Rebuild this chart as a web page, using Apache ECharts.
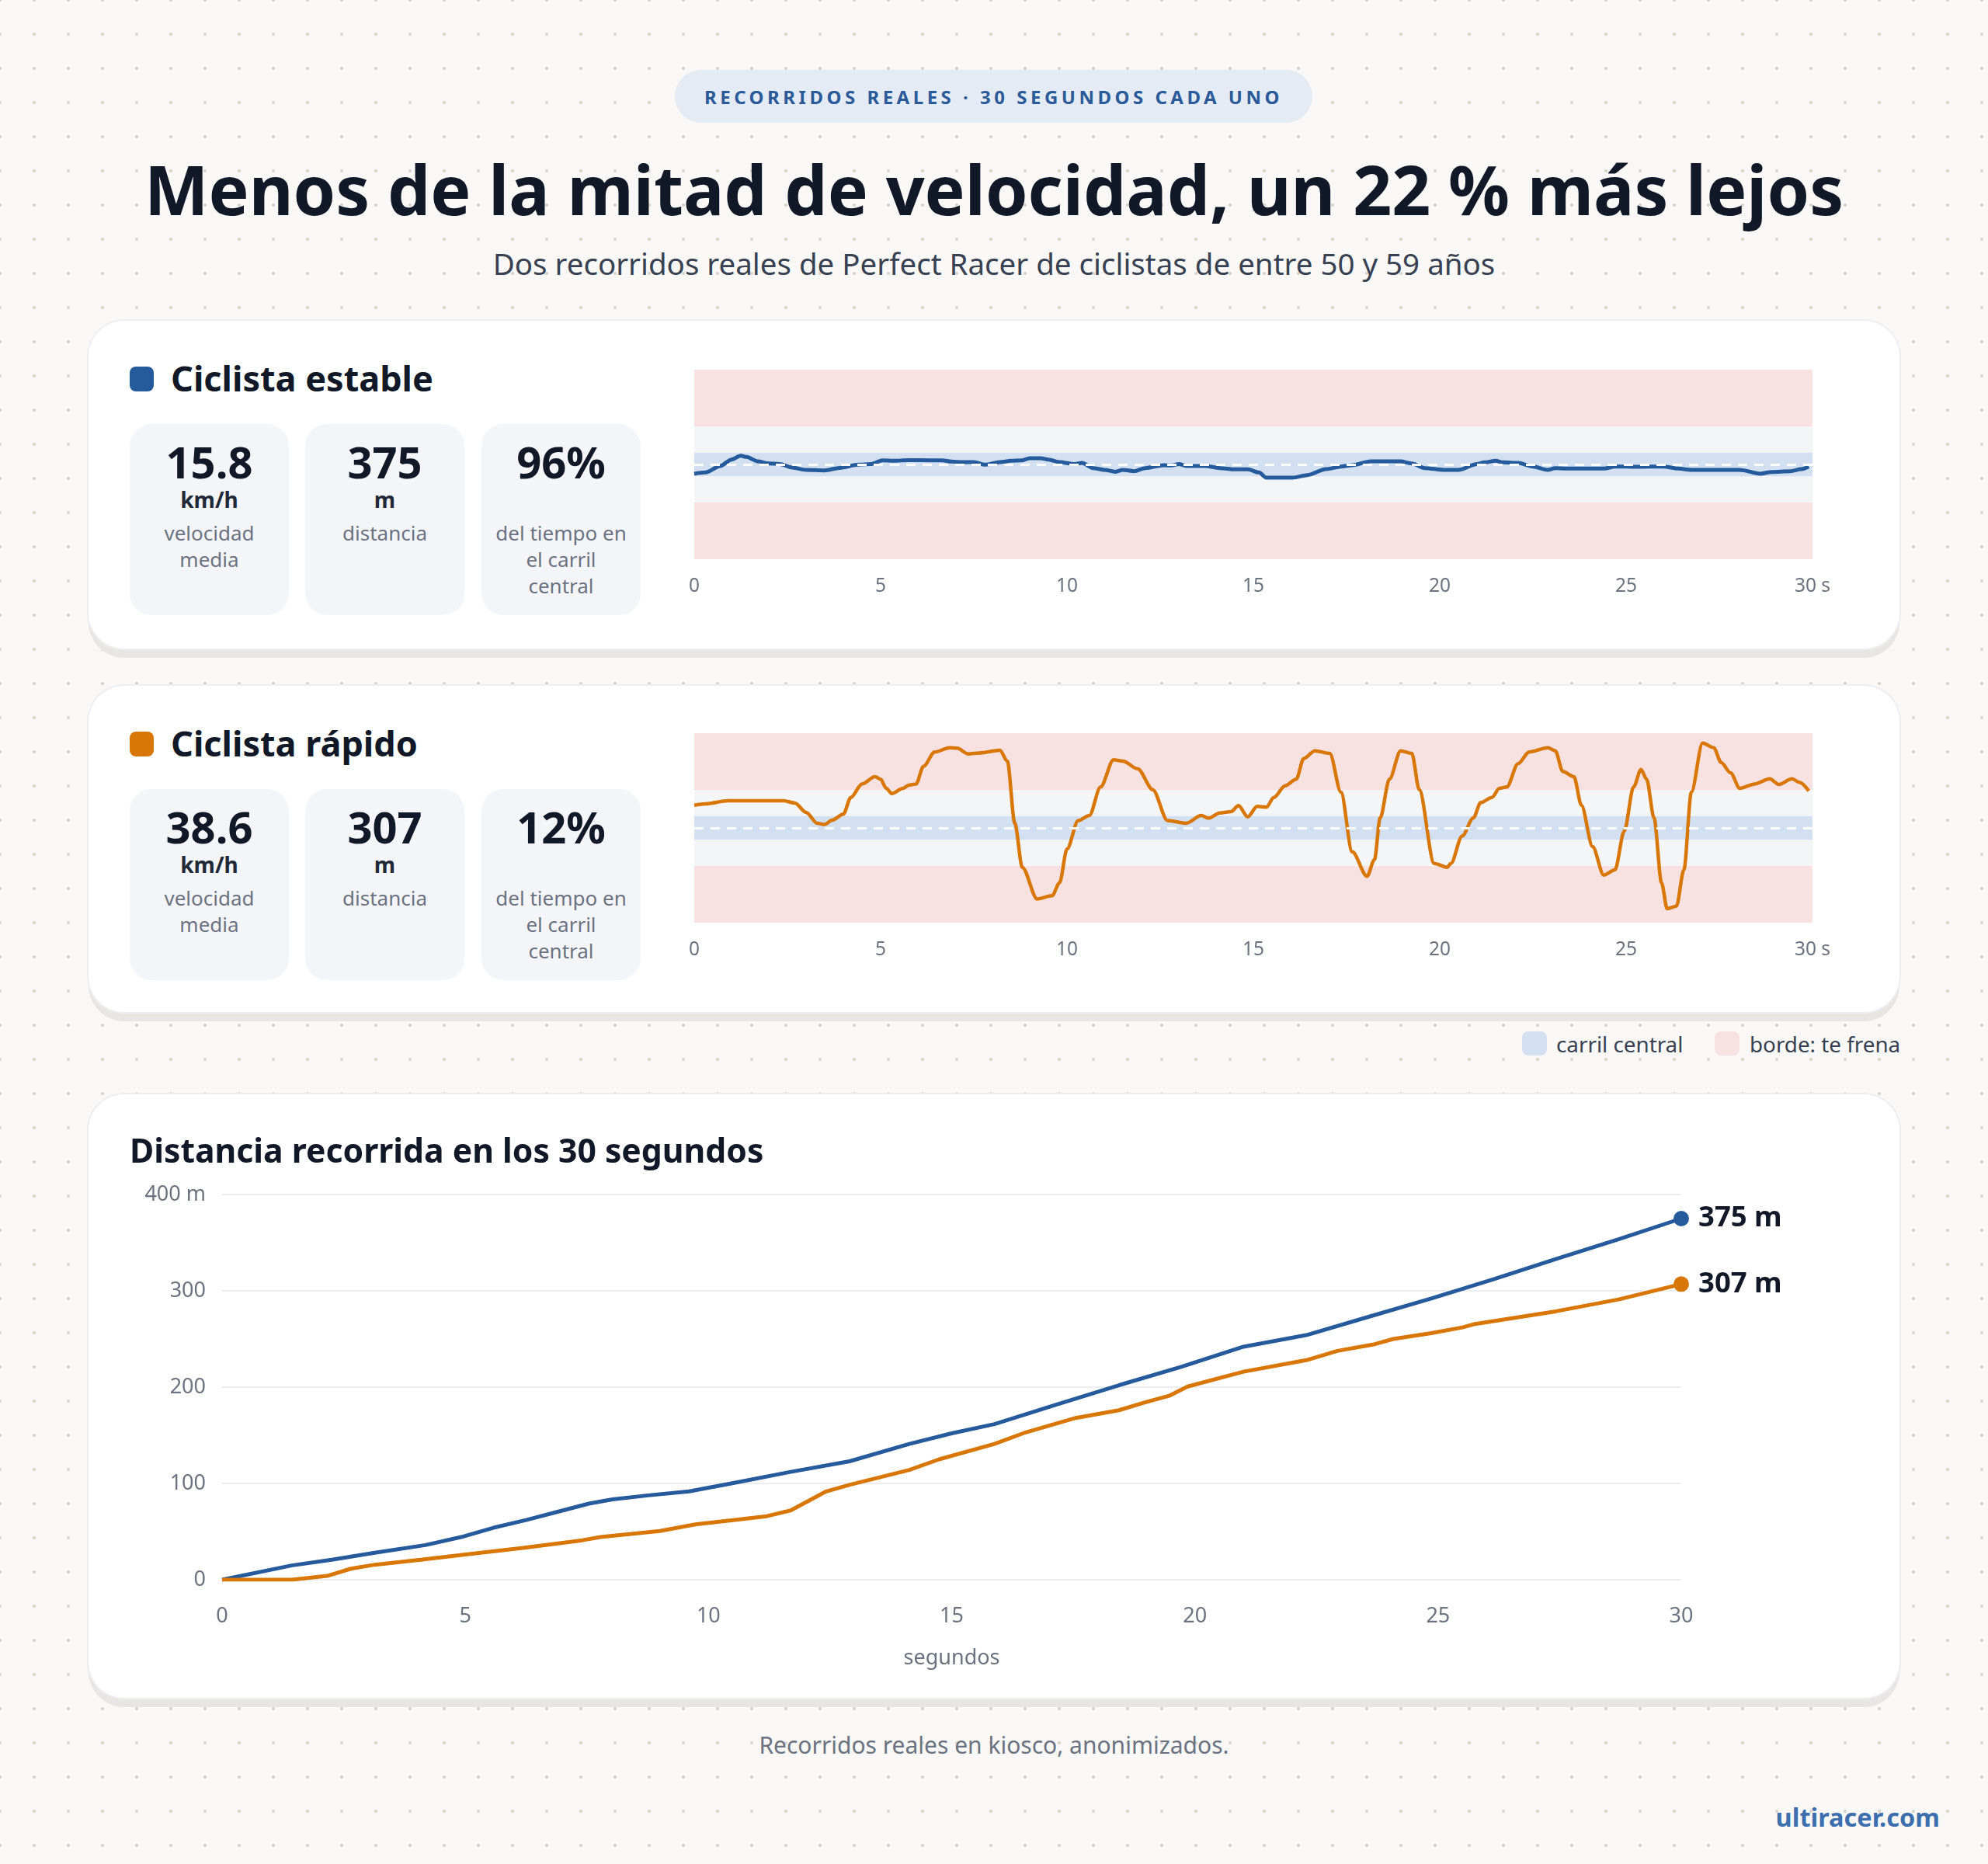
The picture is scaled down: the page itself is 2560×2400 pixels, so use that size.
<!DOCTYPE html>
<html>
<head>
<meta charset="utf-8">
<script src="https://cdn.jsdelivr.net/npm/echarts@6/dist/echarts.min.js"></script>
<style>
body{margin:0;width:2560px;height:2400px;position:relative;overflow:hidden;background:#f9f8f6;font-family:'Noto Sans',sans-serif;color:#111827}
.dots{position:absolute;left:0;top:0;width:2560px;height:2400px;background-image:radial-gradient(circle,#d9d5cf 1.8px,transparent 2.4px);background-size:44px 44px;background-position:-22px -22px}
.abs{position:absolute}
.pill{left:869px;top:90px;width:821px;height:68px;border-radius:34px;background:#e4ebf4;color:#2a5a98;font-weight:700;font-size:24px;letter-spacing:4.5px;display:flex;align-items:center;justify-content:center}
.title{left:0;width:2560px;top:191px;text-align:center;font-size:87.5px;font-weight:700;line-height:1.2}
.sub{left:0;width:2560px;top:316px;text-align:center;font-size:38.5px;line-height:1.2;color:#374151}
.card{left:114px;width:2332px;background:#fff;border-radius:46px;box-shadow:0 0 0 2px #eceef1,0 12px 0 #e8e6e2}
.mark{left:53px;top:59px;width:31px;height:32px;border-radius:8px}
.head{left:106px;top:47px;font-size:45px;font-weight:700;line-height:1.2;white-space:nowrap}
.box{top:133px;width:205px;height:246px;border-radius:28px;background:#f4f5f9;text-align:center}
.num{position:absolute;left:0;width:100%;top:15px;font-size:56px;font-weight:700;line-height:1.2}
.unit{position:absolute;left:0;width:100%;top:81px;font-size:28px;font-weight:700;line-height:1.2;color:#1f2937}
.lab{position:absolute;left:0;width:100%;top:123px;font-size:26px;line-height:34px;color:#6b7280}
.leg{top:1328px;width:32px;height:31px;border-radius:8px}
.legt{top:1325px;font-size:27.8px;line-height:38px;color:#374151;white-space:nowrap}
.foot{left:0;width:2560px;top:2228px;text-align:center;font-size:30px;line-height:38px;color:#6b7280}
.brand{right:62px;top:2319px;font-size:32.5px;font-weight:700;line-height:42px;color:#3d6faf}
</style>
</head>
<body>
<div class="dots"></div>
<div class="abs pill">RECORRIDOS REALES · 30 SEGUNDOS CADA UNO</div>
<div class="abs title">Menos de la mitad de velocidad, un 22 % más lejos</div>
<div class="abs sub">Dos recorridos reales de Perfect Racer de ciclistas de entre 50 y 59 años</div>

<div class="abs card" style="top:413px;height:422px">
  <div class="abs mark" style="background:#255a9c"></div>
  <div class="abs head">Ciclista estable</div>
  <div class="abs box" style="left:53px"><div class="num">15.8</div><div class="unit">km/h</div><div class="lab">velocidad<br>media</div></div>
  <div class="abs box" style="left:279px"><div class="num">375</div><div class="unit">m</div><div class="lab">distancia</div></div>
  <div class="abs box" style="left:506px"><div class="num">96%</div><div class="lab">del tiempo en<br>el carril<br>central</div></div>
  <div class="abs" id="laneSteady" style="left:746px;top:30px;width:1540px;height:350px"></div>
</div>

<div class="abs card" style="top:883px;height:420px">
  <div class="abs mark" style="background:#d97706"></div>
  <div class="abs head">Ciclista rápido</div>
  <div class="abs box" style="left:53px"><div class="num">38.6</div><div class="unit">km/h</div><div class="lab">velocidad<br>media</div></div>
  <div class="abs box" style="left:279px"><div class="num">307</div><div class="unit">m</div><div class="lab">distancia</div></div>
  <div class="abs box" style="left:506px"><div class="num">12%</div><div class="lab">del tiempo en<br>el carril<br>central</div></div>
  <div class="abs" id="laneFast" style="left:746px;top:28px;width:1540px;height:350px"></div>
</div>

<div class="abs leg" style="left:1960px;background:#d3e0f1"></div>
<div class="abs legt" style="left:2004px">carril central</div>
<div class="abs leg" style="left:2208px;background:#f7e2e1"></div>
<div class="abs legt" style="left:2253px">borde: te frena</div>

<div class="abs card" style="top:1409px;height:777px">
  <div class="abs" id="distChart" style="left:0;top:0;width:2332px;height:777px"></div>
  <div class="abs head" style="left:53px;top:46px;font-size:42.7px">Distancia recorrida en los 30 segundos</div>
</div>

<div class="abs foot">Recorridos reales en kiosco, anonimizados.</div>
<div class="abs brand">ultiracer.com</div>

<script>
// lateral position in the lane, -100..100 (0 = centre line)
var steadyTime = [0,0.3,0.7,1.0,1.25,1.4,1.7,2.0,2.3,2.6,3.0,3.5,3.9,4.4,4.75,5.05,5.35,5.75,6.35,6.65,6.9,7.2,7.5,7.8,8.2,8.5,8.8,9.0,9.3,9.5,9.8,10.2,10.4,10.7,11.0,11.3,11.5,11.8,12.1,12.6,12.8,13.0,13.2,13.7,14.1,14.5,14.85,15.15,15.35,16.05,16.45,16.95,17.35,17.65,18.15,18.95,19.25,19.6,20.1,20.5,21.0,21.2,21.5,21.7,22.1,22.5,22.9,23.1,23.4,24.4,24.7,25.3,26.0,26.4,26.75,28.05,28.6,28.9,29.4,29.7,29.9];
var steadyPos = [-9.8,-8.5,-1.6,5.2,9.3,7.9,3.3,1.1,0.5,-3.0,-5.7,-6.3,-3.6,-0.3,0.5,4.4,3.8,4.6,4.4,4.4,3.0,2.5,2.5,-0.3,2.5,3.8,4.4,6.6,6.6,5.2,2.5,0.5,1.6,-3.8,-5.7,-7.7,-5.7,-7.1,-3.8,-0.8,-1.1,0.5,-1.6,-1.6,-3.8,-5.2,-5.2,-8.5,-13.9,-13.9,-11.2,-4.9,-2.2,-0.8,3.3,3.3,1.1,-3.8,-5.7,-5.7,0.5,2.2,3.8,2.2,1.6,-2.2,-5.7,-3.8,-4.4,-4.4,-2.2,-2.5,-2.2,-4.4,-5.7,-5.7,-9.8,-7.9,-7.1,-4.9,-2.2];

var fastTime = [0,0.3,0.9,2.4,2.7,3.0,3.3,3.5,3.7,4.0,4.2,4.5,4.85,5.0,5.15,5.3,5.6,5.75,5.95,6.15,6.45,6.85,7.05,7.35,7.65,8.2,8.4,8.6,8.8,9.2,9.6,9.8,10.0,10.3,10.6,10.9,11.25,11.5,11.9,12.3,12.7,13.2,13.6,13.8,14.1,14.4,14.6,14.85,15.1,15.35,15.55,15.85,16.15,16.35,16.65,17.05,17.35,17.65,18.05,18.25,18.4,18.65,18.95,19.25,19.45,19.85,20.2,20.3,20.6,20.9,21.1,21.4,21.6,21.8,22.1,22.4,22.9,23.1,23.3,23.6,23.8,24.1,24.4,24.7,24.95,25.2,25.4,25.55,25.75,25.95,26.1,26.35,26.55,26.75,27.05,27.35,27.55,27.8,28.05,28.45,28.85,29.1,29.45,29.65,29.9];
var fastPos = [24.0,25.4,28.7,28.7,26.2,16.4,4.9,3.6,8.2,14.5,32.2,46.4,54.1,51.4,41.8,36.3,41.8,45.1,46.4,65.0,80.1,84.7,84.2,78.1,79.2,82.0,70.5,4.9,-41.5,-74.9,-71.6,-57.9,-22.4,7.7,13.1,43.2,71.9,70.5,62.3,40.4,7.7,4.9,13.1,10.4,15.8,17.2,23.5,11.7,22.7,21.9,32.2,44.5,51.4,73.2,81.4,78.7,37.7,-25.1,-51.1,-33.3,10.4,51.4,81.4,78.7,40.4,-37.4,-41.5,-37.4,-8.7,10.4,26.8,32.2,41.8,43.2,67.8,80.1,84.7,81.4,59.6,54.1,24.0,-19.7,-49.7,-44.3,-3.3,43.2,61.7,51.4,10.4,-57.9,-85.2,-82.5,-44.3,37.7,89.6,84.7,69.1,58.2,41.8,46.4,51.9,45.9,51.9,48.1,39.1];

// cumulative distance (m)
var steadyDistTime = [0,1.43,2.28,3.14,4.18,4.97,5.58,6.25,6.93,7.54,8.03,8.76,9.6,10.47,11.69,12.9,14.13,15,15.88,17.16,18.44,19.72,21.0,22.29,23.57,24.86,26.14,27.42,28.71,30];
var steadyDist = [0,14.8,21,28,36,45,54,62,71,79,83.5,87.6,91.7,100,112,123,141,152,161.6,182,202,221,242,254,273,292,312,333,353.5,375];
var fastDistTime = [0,1.43,2.16,2.65,3.14,4.12,4.97,6.19,7.41,7.78,9.0,9.73,10.47,11.2,11.69,12.42,12.91,14.13,14.74,15.88,16.52,17.55,18.44,18.96,19.47,19.85,21.0,22.29,22.93,23.7,24.08,24.86,25.5,25.76,27.42,28.71,30];
var fastDist = [0,0,4,11.5,15.6,21,26,33,41,44.4,50.6,57.5,61.7,66,72,91.7,98.7,114,125,141,153,168,176,184,191,200.6,216,228,237.6,244.6,250,256,262,265.6,278.7,291,307];

// lane bands: [from, to, colour]
var laneBands = [[40,100,'#f7e2e1'],[-100,-40,'#f7e2e1'],[12.5,40,'#f4f5f7'],[-40,-12.5,'#f4f5f7'],[-12.5,12.5,'#d3e0f1']];

function pairs(xs, ys) {
    return xs.map(function (x, i) { return [x, ys[i]]; });
}

function laneOption(times, values, color, width) {
    return {
        animation: false,
        grid: {left: 34, top: 33, width: 1440, height: 244},
        xAxis: {
            type: 'value', min: 0, max: 30, interval: 5,
            axisLine: {show: false}, axisTick: {show: false}, splitLine: {show: false},
            axisLabel: {
                color: '#6b7280', fontSize: 24.5, margin: 23, fontFamily: 'Noto Sans',
                formatter: function (v) { return v === 30 ? '30 s' : v; }
            }
        },
        yAxis: {type: 'value', min: -100, max: 100, show: false},
        series: [{
            type: 'line',
            data: pairs(times, values),
            smooth: 0.3,
            smoothMonotone: 'x',
            symbol: 'none',
            lineStyle: {color: color, width: width},
            markArea: {
                silent: true,
                data: laneBands.map(function (b) {
                    return [{yAxis: b[0], itemStyle: {color: b[2]}}, {yAxis: b[1]}];
                })
            },
            markLine: {
                silent: true, symbol: 'none', label: {show: false},
                lineStyle: {color: '#ffffff', width: 3, type: [12, 9]},
                data: [{yAxis: 0}]
            }
        }]
    };
}

var chartSteady = echarts.init(document.getElementById('laneSteady'));
chartSteady.setOption(laneOption(steadyTime, steadyPos, '#255a9c', 5));
var chartFast = echarts.init(document.getElementById('laneFast'));
chartFast.setOption(laneOption(fastTime, fastPos, '#d97706', 4.5));

function distSeries(data, color) {
    return {
        type: 'line',
        data: data,
        showSymbol: true,
        showAllSymbol: true,
        symbol: 'circle',
        symbolSize: function (v, p) { return p.dataIndex === data.length - 1 ? 20 : 0; },
        itemStyle: {color: color},
        lineStyle: {color: color, width: 5},
        endLabel: {
            show: true, distance: 22,
            formatter: function (p) { return p.value[1] + ' m'; },
            fontSize: 36.5, fontWeight: 'bold', color: '#111827', fontFamily: 'Noto Sans'
        }
    };
}

var chartDist = echarts.init(document.getElementById('distChart'));
chartDist.setOption({
    animation: false,
    grid: {left: 172, top: 129, width: 1879, height: 496},
    xAxis: {
        type: 'value', min: 0, max: 30, interval: 5,
        name: 'segundos', nameLocation: 'middle', nameGap: 88,
        nameTextStyle: {color: '#6b7280', fontSize: 27, fontFamily: 'Noto Sans'},
        axisLine: {show: false}, axisTick: {show: false}, splitLine: {show: false},
        axisLabel: {color: '#6b7280', fontSize: 27, margin: 34, fontFamily: 'Noto Sans'}
    },
    yAxis: {
        type: 'value', min: 0, max: 400, interval: 100,
        axisLine: {show: false}, axisTick: {show: false},
        splitLine: {lineStyle: {color: '#eceef2', width: 2}},
        axisLabel: {
            color: '#6b7280', fontSize: 27, margin: 21, fontFamily: 'Noto Sans',
            formatter: function (v) { return v === 400 ? '400 m' : v; }
        }
    },
    series: [
        distSeries(pairs(steadyDistTime, steadyDist), '#255a9c'),
        distSeries(pairs(fastDistTime, fastDist), '#d97706')
    ]
});
</script>
</body>
</html>
